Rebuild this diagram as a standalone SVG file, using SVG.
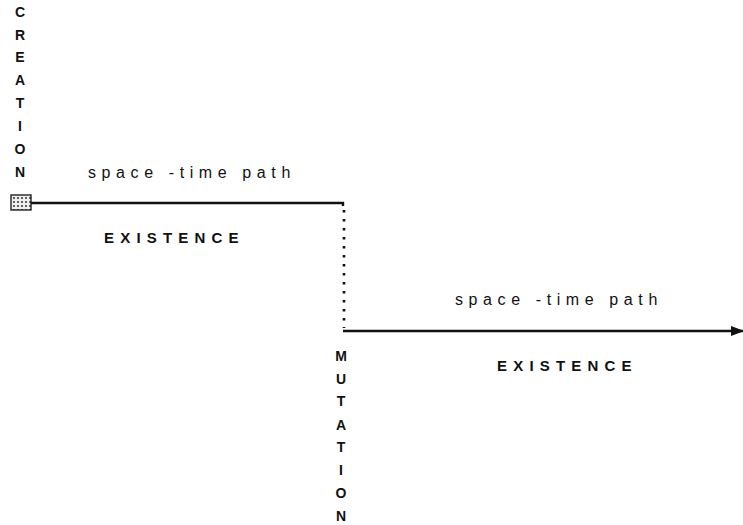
<svg xmlns="http://www.w3.org/2000/svg" width="743" height="525" viewBox="0 0 743 525">
<style>
.v{font-family:"Liberation Sans",Arial,sans-serif;font-weight:bold;font-size:14px;fill:#111;text-anchor:middle}
.p{font-family:"Liberation Sans",Arial,sans-serif;font-size:16px;fill:#111;letter-spacing:5.6px}
.e{font-family:"Liberation Sans",Arial,sans-serif;font-weight:bold;font-size:15px;fill:#111;letter-spacing:6.2px}
.ln{stroke:#111;stroke-width:2.4;fill:none}
</style>
<defs>
<pattern id="dots" width="4" height="4" patternUnits="userSpaceOnUse"><rect width="4" height="4" fill="#eee"/><circle cx="2" cy="2" r="1" fill="#333"/></pattern>
<marker id="ah" markerWidth="13" markerHeight="10" refX="12" refY="5" orient="auto" markerUnits="userSpaceOnUse"><path d="M0,0 L13,5 L0,10 Z" fill="#111"/></marker>
</defs>
<g id="creation">
<rect x="11" y="195" width="20" height="15" fill="url(#dots)" stroke="#222" stroke-width="1.4"/>
<text class="v" x="20" y="17">C</text><text class="v" x="20" y="40">R</text><text class="v" x="20" y="62">E</text><text class="v" x="20" y="85">A</text><text class="v" x="20" y="108">T</text><text class="v" x="20" y="131">I</text><text class="v" x="20" y="154">O</text><text class="v" x="20" y="177">N</text>
</g>
<g id="mutation">
<text class="v" x="341" y="361">M</text><text class="v" x="341" y="384">U</text><text class="v" x="341" y="406">T</text><text class="v" x="341" y="430">A</text><text class="v" x="341" y="452">T</text><text class="v" x="341" y="475">I</text><text class="v" x="341" y="498">O</text><text class="v" x="341" y="521">N</text>
</g>
<g id="labels">
<text class="p" x="88" y="178">space -time path</text>
<text class="e" x="104" y="243">EXISTENCE</text>
<text class="p" x="455" y="305">space -time path</text>
<text class="e" x="497" y="371">EXISTENCE</text>
</g>
<g id="connectors">
<path class="ln" d="M31,203 H343 V206"/>
<line x1="344" y1="210" x2="344" y2="328" stroke="#111" stroke-width="2.6" stroke-dasharray="2.5 6.5"/>
<line class="ln" x1="343" y1="331" x2="743" y2="331" marker-end="url(#ah)"/>
</g>
</svg>
